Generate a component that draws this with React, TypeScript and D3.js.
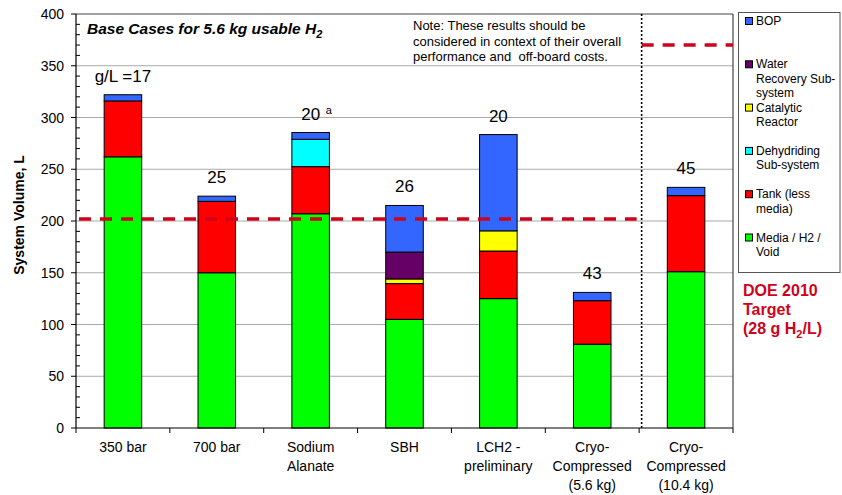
import React from "react";
import * as d3 from "d3";

const categories: string[][] = [
  ["350 bar"],
  ["700 bar"],
  ["Sodium", "Alanate"],
  ["SBH"],
  ["LCH2 -", "preliminary"],
  ["Cryo-", "Compressed", "(5.6 kg)"],
  ["Cryo-", "Compressed", "(10.4 kg)"],
];

// stacked series, bottom to top
const media = [262, 150, 207, 105, 125, 81, 151];
const tank = [54, 69, 45.5, 34.5, 46, 42, 73.5];
const dehydriding = [0, 0, 26.5, 0, 0, 0, 0];
const catalytic = [0, 0, 0, 4.5, 19.5, 0, 0];
const waterRecovery = [0, 0, 0, 26, 0, 0, 0];
const bop = [6, 5, 6.5, 45, 93, 8, 8];

const barLabels = ["g/L =17", "25", "20", "26", "20", "43", "45"];
const barLabelSup = ["", "", "a", "", "", "", ""];

const target56 = 202; // DOE target for 5.6 kg cases
const target104 = 370; // DOE target for 10.4 kg case

const yTicks = [0, 50, 100, 150, 200, 250, 300, 350, 400];

const seriesNames = [
  "Media / H2 / Void",
  "Tank (less media)",
  "Dehydriding Sub-system",
  "Catalytic Reactor",
  "Water Recovery Sub-system",
  "BOP",
];
const seriesData = [media, tank, dehydriding, catalytic, waterRecovery, bop];
const seriesColors = ["#00ff00", "#ff0000", "#00ffff", "#ffff00", "#660066", "#3366ff"];

const legendItems: { lines: string[]; color: string }[] = [
  { lines: ["BOP"], color: "#3366ff" },
  { lines: ["Water", "Recovery Sub-", "system"], color: "#660066" },
  { lines: ["Catalytic", "Reactor"], color: "#ffff00" },
  { lines: ["Dehydriding", "Sub-system"], color: "#00ffff" },
  { lines: ["Tank (less", "media)"], color: "#ff0000" },
  { lines: ["Media / H2 /", "Void"], color: "#00ff00" },
];

const FONT = "'Liberation Sans', Arial, Helvetica, sans-serif";
const RED = "#d0021b";

export default function App() {
  const W = 842;
  const H = 495;
  const left = 76;
  const right = 733;
  const top = 14;
  const bottom = 428;

  const idx = categories.map((_, i) => String(i));
  const x = d3.scaleBand<string>().domain(idx).range([left, right]).padding(0);
  const y = d3.scaleLinear().domain([0, 400]).range([bottom, top]);
  const bw = x.bandwidth() * 0.4;

  const rows = idx.map((k, i) => {
    const r: any = { key: k };
    seriesNames.forEach((n, s) => (r[n] = seriesData[s][i]));
    return r;
  });
  const stacked = d3.stack<any>().keys(seriesNames)(rows);
  const totals = idx.map((_, i) => seriesData.reduce((a, s) => a + s[i], 0));

  const dividerX = (x("6") as number) + 2.5;
  const minorTicks = d3.range(0, 401, 10).filter((v) => v % 50 !== 0);
  const boundaries = d3.range(0, categories.length + 1).map((i) => left + i * x.step());

  return (
    <svg
      width={W}
      height={H}
      style={{ position: "absolute", left: 0, top: 0, background: "#fff" }}
      fontFamily={FONT}
    >
      {/* gridlines */}
      {yTicks.slice(1, -1).map((t) => (
        <line key={"g" + t} x1={left} x2={right} y1={y(t)} y2={y(t)} stroke="#aaaaaa" strokeWidth={1.2} />
      ))}
      {/* plot border top/right */}
      <line x1={left} x2={right} y1={top} y2={top} stroke="#444" strokeWidth={1.2} />
      <line x1={right} x2={right} y1={top} y2={bottom} stroke="#444" strokeWidth={1.2} />

      {/* bars */}
      {stacked.map((layer, s) => (
        <g key={layer.key}>
          {layer.map((d, i) => {
            if (d[1] - d[0] <= 0) return null;
            const cx = (x(String(i)) as number) + x.bandwidth() / 2;
            return (
              <rect
                key={i}
                x={cx - bw / 2}
                y={y(d[1])}
                width={bw}
                height={y(d[0]) - y(d[1])}
                fill={seriesColors[s]}
                stroke="#000"
                strokeWidth={1}
              />
            );
          })}
        </g>
      ))}

      {/* bar labels */}
      {barLabels.map((l, i) => {
        const cx = (x(String(i)) as number) + x.bandwidth() / 2;
        const by = y(totals[i]) - 13;
        return (
          <g key={"bl" + i}>
            <text x={cx} y={by} textAnchor="middle" fontSize={17} fill="#000">
              {l}
            </text>
            {barLabelSup[i] && (
              <text x={cx + 15} y={by - 6} fontSize={11} fill="#000">
                {barLabelSup[i]}
              </text>
            )}
          </g>
        );
      })}

      {/* target dashed lines */}
      <line
        x1={left + 3}
        x2={dividerX - 5}
        y1={y(target56)}
        y2={y(target56)}
        stroke={RED}
        strokeWidth={3.5}
        strokeDasharray="12,9"
      />
      <line
        x1={dividerX}
        x2={right}
        y1={y(target104)}
        y2={y(target104)}
        stroke={RED}
        strokeWidth={3.5}
        strokeDasharray="12,9"
      />

      {/* dotted divider */}
      <line x1={dividerX} x2={dividerX} y1={top} y2={bottom} stroke="#000" strokeWidth={1.6} strokeDasharray="2,2" />

      {/* axes */}
      <line x1={left} x2={left} y1={top} y2={bottom} stroke="#000" strokeWidth={1.2} />
      <line x1={left} x2={right} y1={bottom} y2={bottom} stroke="#000" strokeWidth={1.2} />
      {yTicks.map((t) => (
        <g key={"yt" + t}>
          <line x1={left - 5} x2={left} y1={y(t)} y2={y(t)} stroke="#000" />
          <text x={64} y={y(t) + 5} textAnchor="end" fontSize={14} fill="#000">
            {t}
          </text>
        </g>
      ))}
      {minorTicks.map((t) => (
        <line key={"mt" + t} x1={left} x2={left + 4} y1={y(t)} y2={y(t)} stroke="#000" />
      ))}
      {boundaries.map((bx, i) => (
        <line key={"xt" + i} x1={bx} x2={bx} y1={bottom} y2={bottom + 5} stroke="#000" />
      ))}
      {categories.map((lines, i) => {
        const cx = (x(String(i)) as number) + x.bandwidth() / 2;
        return (
          <text key={"xl" + i} x={cx} y={452} textAnchor="middle" fontSize={14} fill="#000">
            {lines.map((ln, j) => (
              <tspan key={j} x={cx} dy={j === 0 ? 0 : 19}>
                {ln}
              </tspan>
            ))}
          </text>
        );
      })}

      {/* y axis title */}
      <text
        transform={`translate(24,215) rotate(-90)`}
        textAnchor="middle"
        fontSize={14}
        fontWeight="bold"
        fill="#000"
      >
        System Volume, L
      </text>

      {/* chart title */}
      <text x={87} y={34} fontSize={15.5} fontWeight="bold" fontStyle="italic" fill="#000">
        Base Cases for 5.6 kg usable H
        <tspan fontSize={11} dy={4}>2</tspan>
      </text>

      {/* note */}
      <text x={413} y={30} fontSize={13} fill="#000" style={{ whiteSpace: "pre" }}>
        <tspan x={413} dy={0}>Note: These results should be</tspan>
        <tspan x={413} dy={15.5}>considered in context of their overall</tspan>
        <tspan x={413} dy={15.5}>{"performance and\u00a0 off-board costs."}</tspan>
      </text>

      {/* legend */}
      <rect x={738.5} y={12.5} width={101.5} height={260} fill="#fff" stroke="#555" strokeWidth={1} />
      {legendItems.map((it, i) => {
        const cy = 21 + i * 43.3;
        return (
          <g key={"lg" + i}>
            <rect x={745.5} y={cy - 3.5} width={7} height={7} fill={it.color} stroke="#000" strokeWidth={1} />
            <text x={756} y={cy + 4} fontSize={12} fill="#000">
              {it.lines.map((ln, j) => (
                <tspan key={j} x={756} dy={j === 0 ? 0 : 14.3}>
                  {ln}
                </tspan>
              ))}
            </text>
          </g>
        );
      })}

      {/* DOE target label */}
      <text x={743} y={296} fontSize={16} fontWeight="bold" fill={RED}>
        <tspan x={743} dy={0}>DOE 2010</tspan>
        <tspan x={743} dy={19}>Target</tspan>
        <tspan x={743} dy={19}>(28 g H</tspan>
        <tspan fontSize={11} dy={4}>2</tspan>
        <tspan dy={-4}>/L)</tspan>
      </text>
    </svg>
  );
}
